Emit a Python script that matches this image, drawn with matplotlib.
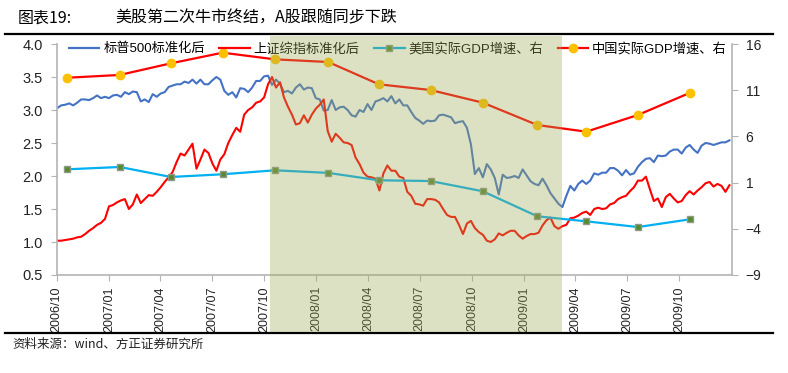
import pandas as pd
import matplotlib
matplotlib.use('Agg')
import matplotlib.pyplot as plt
import matplotlib.dates as mdates
from matplotlib.lines import Line2D
from matplotlib.patches import Rectangle
from matplotlib.transforms import blended_transform_factory

plt.rcParams['font.family'] = ['Liberation Sans', 'Noto Sans CJK SC', 'DejaVu Sans']
plt.rcParams['axes.unicode_minus'] = True

# weekly values (one per week, weeks starting 2006-10-02)
week_start = '2006-10-02'

sp500_norm = [
    3.03, 3.07, 3.08, 3.10, 3.07, 3.11, 3.16, 3.16, 3.15, 3.18,
    3.22, 3.18, 3.20, 3.18, 3.22, 3.23, 3.20, 3.27, 3.24, 3.28,
    3.27, 3.13, 3.16, 3.12, 3.24, 3.20, 3.25, 3.27, 3.35, 3.37,
    3.39, 3.39, 3.43, 3.41, 3.46, 3.40, 3.46, 3.39, 3.39, 3.45,
    3.50, 3.46, 3.29, 3.23, 3.27, 3.19, 3.33, 3.32, 3.27, 3.34,
    3.44, 3.44, 3.51, 3.52, 3.38, 3.46, 3.40, 3.27, 3.29, 3.25,
    3.34, 3.39, 3.31, 3.34, 3.33, 3.18, 3.16, 2.99, 3.00, 3.15,
    3.00, 3.04, 3.05, 3.00, 2.92, 2.90, 3.00, 2.97, 3.09, 3.00,
    3.13, 3.15, 3.18, 3.13, 3.21, 3.10, 3.16, 3.07, 3.07, 2.97,
    2.88, 2.84, 2.79, 2.84, 2.83, 2.84, 2.92, 2.93, 2.91, 2.89,
    2.80, 2.82, 2.83, 2.73, 2.48, 2.03, 2.12, 1.98, 2.18, 2.10,
    1.97, 1.72, 2.02, 1.97, 1.98, 2.00, 1.97, 2.10, 2.01, 1.92,
    1.88, 1.86, 1.96, 1.86, 1.74, 1.66, 1.58, 1.53, 1.70, 1.85,
    1.78, 1.88, 1.93, 1.88, 1.93, 2.04, 2.02, 2.05, 2.05, 2.12,
    2.12, 2.08, 2.01, 2.09, 2.02, 2.04, 2.14, 2.21, 2.26, 2.27,
    2.21, 2.31, 2.30, 2.31, 2.37, 2.40, 2.40, 2.34, 2.43, 2.47,
    2.40, 2.35, 2.46, 2.50, 2.49, 2.47, 2.49, 2.51, 2.51, 2.54,
]

sse_norm = [
    1.02, 1.02, 1.03, 1.04, 1.05, 1.07, 1.08, 1.12, 1.17, 1.21,
    1.26, 1.29, 1.35, 1.54, 1.56, 1.60, 1.63, 1.65, 1.50, 1.57,
    1.72, 1.59, 1.65, 1.71, 1.70, 1.76, 1.83, 1.91, 1.98, 2.06,
    2.21, 2.34, 2.31, 2.40, 2.49, 2.11, 2.25, 2.40, 2.35, 2.19,
    2.08, 2.25, 2.33, 2.50, 2.62, 2.73, 2.67, 2.93, 3.00, 3.04,
    3.11, 3.13, 3.19, 3.39, 3.50, 3.34, 3.42, 3.19, 3.05, 2.93,
    2.78, 2.80, 2.92, 2.81, 2.93, 3.02, 3.08, 3.16, 2.68, 2.52,
    2.64, 2.58, 2.51, 2.50, 2.47, 2.28, 2.18, 2.05, 1.99, 1.98,
    1.96, 1.78, 2.04, 2.16, 2.08, 2.08, 1.99, 1.97, 1.76, 1.70,
    1.58, 1.57, 1.55, 1.65, 1.65, 1.64, 1.60, 1.50, 1.41, 1.38,
    1.38, 1.26, 1.12, 1.28, 1.32, 1.21, 1.15, 1.11, 1.02, 1.00,
    1.04, 1.13, 1.10, 1.14, 1.17, 1.17, 1.10, 1.05, 1.09, 1.12,
    1.12, 1.14, 1.25, 1.33, 1.37, 1.24, 1.20, 1.24, 1.26, 1.36,
    1.37, 1.40, 1.44, 1.46, 1.41, 1.50, 1.52, 1.50, 1.51, 1.57,
    1.59, 1.65, 1.68, 1.70, 1.77, 1.83, 1.93, 1.93, 1.99, 1.80,
    1.62, 1.66, 1.53, 1.68, 1.73, 1.66, 1.60, 1.62, 1.71, 1.77,
    1.72, 1.78, 1.83, 1.89, 1.91, 1.84, 1.88, 1.85, 1.76, 1.86,
]

gdp_dates = ['2006-10-20', '2007-01-20', '2007-04-20', '2007-07-20', '2007-10-20',
             '2008-01-22', '2008-04-20', '2008-07-20', '2008-10-20', '2009-01-24',
             '2009-04-20', '2009-07-20', '2009-10-20']
us_gdp = [2.44, 2.69, 1.61, 1.90, 2.33, 2.05, 1.25, 1.17, 0.06, -2.65, -3.19, -3.81, -2.97]
cn_gdp = [12.35, 12.65, 13.91, 15.06, 14.34, 14.05, 11.64, 11.02, 9.65, 7.23, 6.51, 8.32, 10.73]

labels = ['标普500标准化后', '上证综指标准化后', '美国实际GDP增速、右', '中国实际GDP增速、右']

x_ticks = ['2006-10-01', '2007-01-01', '2007-04-01', '2007-07-01', '2007-10-01',
           '2008-01-01', '2008-04-01', '2008-07-01', '2008-10-01', '2009-01-01',
           '2009-04-01', '2009-07-01', '2009-10-01']
x_range = ('2006-10-01', '2010-01-01')
shade_range = ('2007-10-11', '2009-03-09')

left_ticks = [0.5, 1.0, 1.5, 2.0, 2.5, 3.0, 3.5, 4.0]
right_ticks = [-9, -4, 1, 6, 11, 16]

W, H = 788, 373
grey = '#B4B4B4'

weeks = pd.date_range(week_start, periods=len(sp500_norm), freq='7D')
gdp_x = pd.to_datetime(gdp_dates)

fig = plt.figure(figsize=(W / 100, H / 100), dpi=100)
ax = fig.add_axes([56.7 / W, 1 - 275 / H, (731.7 - 56.7) / W, (275 - 44) / H])
ax2 = ax.twinx()

ax.plot(weeks, sp500_norm, color='#4472C4', lw=1.5)
ax.plot(weeks, sse_norm, color='#FF0000', lw=1.5)

us_style = dict(color='#00B0F0', lw=1.6, marker='s', ms=5, mfc='#558B2F', mec='#8E9A86', mew=1)
cn_style = dict(color='#FF0000', lw=1.6, marker='o', ms=6, mfc='#FFC000', mec='#FFC000')
ax2.plot(gdp_x, us_gdp, **us_style)
ax2.plot(gdp_x, cn_gdp, **cn_style)

ax.set_xlim(pd.Timestamp(x_range[0]), pd.Timestamp(x_range[1]))
ax.set_ylim(0.5, 4.0)
ax2.set_ylim(-9, 16)
ax.set_yticks(left_ticks)
ax.set_yticklabels([f'{v:.1f}' for v in left_ticks])
ax2.set_yticks(right_ticks)
ax.set_xticks(pd.to_datetime(x_ticks))
ax.xaxis.set_major_formatter(mdates.DateFormatter('%Y/%m'))

for a in (ax, ax2):
    a.spines['top'].set_visible(False)
    for s in a.spines.values():
        s.set_color(grey)
        s.set_linewidth(1.2)
ax.spines['right'].set_visible(False)
ax2.spines['left'].set_visible(False)
ax2.spines['bottom'].set_visible(False)

ax.tick_params(axis='y', direction='out', length=4, color=grey, labelsize=10.5, pad=6, labelcolor='#222222')
ax.tick_params(axis='x', direction='out', length=4, color=grey, labelsize=9, pad=4,
               labelrotation=90, labelcolor='#222222')
ax2.tick_params(axis='y', direction='out', length=4, color=grey, labelsize=10, pad=6, labelcolor='#222222')

handles = [Line2D([], [], color='#4472C4', lw=1.6),
           Line2D([], [], color='#FF0000', lw=1.6),
           Line2D([], [], **us_style),
           Line2D([], [], **cn_style)]
ax2.legend(handles, labels, loc='center left', bbox_to_anchor=(69 / W, 1 - 49 / H),
           bbox_transform=fig.transFigure, ncol=4, frameon=False, fontsize=9.5,
           handlelength=2.3, handletextpad=0.3, columnspacing=1.1, borderpad=0, borderaxespad=0)

# shaded period drawn over everything between the two rules
trans = blended_transform_factory(ax.transData, fig.transFigure)
x0 = mdates.date2num(pd.Timestamp(shade_range[0]))
x1 = mdates.date2num(pd.Timestamp(shade_range[1]))
fig.add_artist(Rectangle((x0, 1 - 332 / H), x1 - x0, (332 - 35.5) / H, transform=trans,
                         facecolor=(159 / 255, 170 / 255, 88 / 255), alpha=0.35, lw=0, zorder=10))

# header / footer rules and text
fig.add_artist(Line2D([5 / W, 773 / W], [1 - 34.3 / H] * 2, color='black', lw=1.6,
                      transform=fig.transFigure))
fig.add_artist(Line2D([5 / W, 773 / W], [1 - 332.5 / H] * 2, color='black', lw=1.6,
                      transform=fig.transFigure))
fig.text(18 / W, 1 - 18 / H, '图表19:', fontsize=11.5, va='center', ha='left',
         family=['Noto Sans CJK SC', 'DejaVu Sans'])
fig.text(115 / W, 1 - 18 / H, '美股第二次牛市终结，A股跟随同步下跌', fontsize=11.5, va='center',
         ha='left', family=['Noto Sans CJK SC', 'DejaVu Sans'])
fig.text(12 / W, 1 - 344 / H, '资料来源：wind、方正证券研究所', fontsize=9, va='center', ha='left',
         style='italic', family=['Noto Sans CJK SC', 'DejaVu Sans'], color='#222222')

fig.savefig('out.png', dpi=100)
